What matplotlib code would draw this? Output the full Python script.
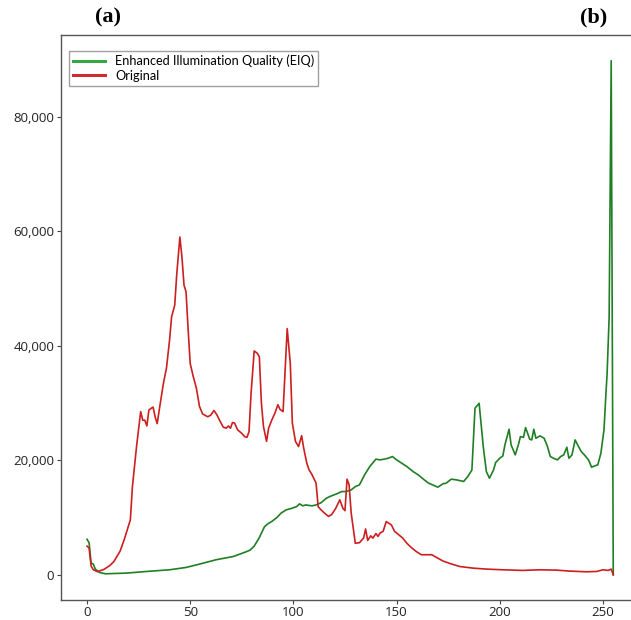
import matplotlib
matplotlib.use("Agg")
import matplotlib.pyplot as plt
from matplotlib.lines import Line2D
from matplotlib.ticker import FuncFormatter

# histogram values (intensity level -> pixel count)
orig_x = [0, 1, 2, 3, 5, 8, 11, 13, 16, 18, 21, 22, 24, 26, 27, 28, 29, 30, 32, 33,
          34, 35, 37, 38.5, 40, 41, 42.5, 43.5, 45, 46, 47, 48, 49, 50, 51.5, 53, 54.5, 56,
          58.5, 60, 61.5, 63, 64.5, 66, 67.5, 68.5, 69.5, 70.5, 71.5, 73, 75, 76.5, 77.5,
          78.5, 79.5, 81, 82.5, 83.5, 84.5, 85.5, 87, 88, 89.5, 91, 92.5, 93.5, 95, 97,
          98.5, 99.5, 101, 102.5, 104, 105, 106.5, 107.5, 109, 111, 112, 113.5, 115, 117,
          118.5, 120.5, 122.5, 124, 125, 126, 127, 128, 130, 132, 134, 135, 136, 137.5,
          138.5, 140, 141, 142, 143.5, 145, 147.5, 149, 151, 153, 155, 157, 159.5, 162,
          164.5, 167, 169.5, 172.5, 176, 180.5, 187, 193.5, 201.5, 211, 219.5, 227.5,
          234, 242, 247, 250, 252.5, 254, 255]
orig_y = [5000, 4700, 1500, 900, 550, 900, 1600, 2300, 4100, 6100, 9600, 15400, 22400,
          28500, 27000, 27000, 26000, 28800, 29300, 27600, 26400, 28800, 33400, 36100,
          41000, 45100, 47100, 52600, 59000, 55500, 50600, 49400, 42800, 36900, 34600,
          32600, 29400, 28100, 27600, 27900, 28700, 27900, 26800, 25800, 25600, 26000,
          25600, 26600, 26500, 25300, 24700, 24100, 24000, 25000, 31700, 39100, 38700,
          38100, 30000, 25900, 23300, 25600, 27000, 28200, 29700, 28900, 28500, 43000,
          36900, 26500, 23300, 22400, 24300, 22100, 19500, 18400, 17500, 16000, 11900,
          11300, 10800, 10200, 10500, 11600, 13100, 11600, 11200, 16700, 15700, 10800,
          5500, 5600, 6400, 8000, 6000, 6800, 6400, 7200, 6700, 7300, 7600, 9300, 8700,
          7600, 7000, 6400, 5500, 4800, 4070, 3500, 3500, 3500, 3000, 2400, 1950, 1450,
          1160, 990, 870, 760, 870, 810, 640, 520, 580, 870, 760, 990, 0]

eiq_x = [0, 1, 2, 3, 4, 6, 9, 19, 29, 40, 48, 54.5, 62.5, 71, 77, 79, 81, 83.5, 86, 88,
         89.5, 92, 94, 96.5, 99, 101.5, 103, 104.5, 106, 109, 111, 113.5, 116, 118.5,
         121, 123.5, 125.5, 128, 130, 132, 134.5, 137, 140, 142, 144, 146, 148, 150,
         152.5, 155, 158, 160.5, 163, 165.5, 167.5, 170, 172.5, 174, 176.5, 179, 182.5,
         184.5, 186.5, 188, 190, 192, 193.5, 195, 197, 198, 200, 201.5, 202.5, 204.5,
         205.5, 207.5, 209, 210, 211.5, 212.5, 213.5, 214.5, 215.5, 216.5, 217.5, 219.5,
         221.5, 223, 224.5, 226, 228, 229.5, 231, 232.5, 233.5, 235, 236.5, 238, 239.5,
         241, 243, 244.5, 246, 247.5, 249, 250.5, 251.5, 252, 253, 254, 255]
eiq_y = [6200, 5600, 2000, 1900, 1000, 400, 170, 290, 580, 870, 1280, 1860, 2620, 3200,
         4000, 4300, 5000, 6500, 8400, 9000, 9300, 10000, 10760, 11340, 11580, 11900,
         12390, 12040, 12200, 12040, 12200, 12600, 13380, 13790, 14140, 14540, 14540,
         14830, 15400, 15700, 17450, 18900, 20200, 20070, 20200, 20360, 20650, 20070,
         19490, 18900, 18030, 17450, 16700, 16000, 15700, 15300, 15900, 16000, 16700,
         16580, 16300, 17160, 18300, 29100, 29960, 22400, 18030, 16870, 18320, 19600,
         20360, 20770, 22690, 25420, 22690, 20940, 22690, 24140, 24020, 25710, 24720,
         23680, 23560, 25420, 23850, 24260, 23850, 22510, 20650, 20360, 20070, 20650,
         20940, 22280, 20360, 20940, 23560, 22510, 21520, 20940, 20070, 18790, 19020,
         19200, 21230, 25300, 32000, 35000, 45000, 89800, 0]

labels = ["Enhanced Illumination Quality (EIQ)", "Original"]

fig = plt.figure(figsize=(6.31, 6.20), dpi=100)
# the source image is cropped, so the axes runs a little past the right edge
ax = fig.add_axes([0.0962, 0.0315, 0.9174, 0.912])

ax.plot(eiq_x, eiq_y, color="#1f7f24", lw=1.2)
ax.plot(orig_x, orig_y, color="#cc1f1f", lw=1.2)

ax.set_yticks([0, 20000, 40000, 60000, 80000])
ax.set_xticks([0, 50, 100, 150, 200, 250])
ax.yaxis.set_major_formatter(FuncFormatter(lambda v, p: f"{v:,.0f}"))
ax.tick_params(length=2.7, width=0.8, color="#444444", labelcolor="#222222",
               labelsize=9.5, pad=2)
ax.tick_params(axis="x", pad=1)
for lab in ax.get_xticklabels() + ax.get_yticklabels():
    lab.set_family("Open Sans")
for side in ["left", "bottom", "top"]:
    ax.spines[side].set_color("#555555")
    ax.spines[side].set_linewidth(1.0)

handles = [Line2D([], [], color="#33a843", lw=2.2),
           Line2D([], [], color="#d12a33", lw=2.2)]
leg = ax.legend(handles, labels, loc="upper left", bbox_to_anchor=(0.0149, 0.9717),
                borderaxespad=0, fancybox=False, prop={"family": "Lato", "size": 9.2},
                handlelength=2.5, handletextpad=0.8, labelspacing=0.2, borderpad=0.3)
leg.get_frame().set_edgecolor("#888888")
leg.get_frame().set_linewidth(1.0)

fig.text(0.171, 0.972, "(a)", ha="center", va="center", family="Liberation Serif",
         weight="bold", size=16)
fig.text(0.94, 0.972, "(b)", ha="center", va="center", family="Liberation Serif",
         weight="bold", size=16)

fig.savefig("out.png", dpi=100)
